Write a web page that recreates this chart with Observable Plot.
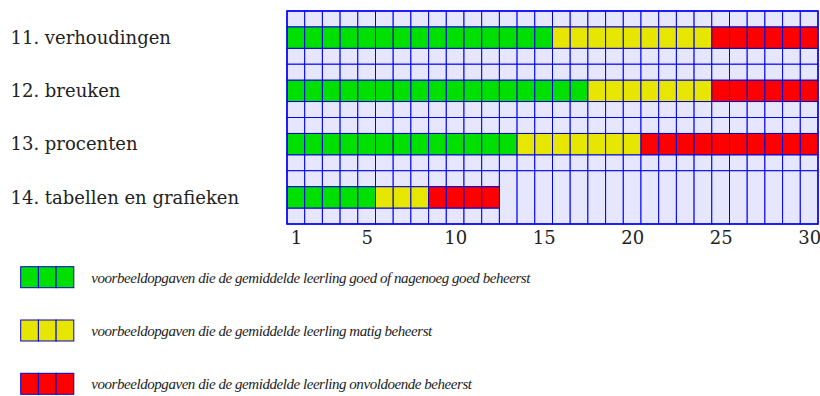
<!DOCTYPE html>
<html>
<head>
<meta charset="utf-8">
<script src="https://cdn.jsdelivr.net/npm/d3@7"></script>
<script src="https://cdn.jsdelivr.net/npm/@observablehq/plot@0.6"></script>
<style>
  html, body { margin: 0; padding: 0; background: #ffffff; }
  #chart svg, #legend svg { display: block; }
  #legend text { letter-spacing: -0.45px; }
</style>
</head>
<body>
<div id="chart"></div>
<div id="legend"></div>
<script>
// ---- data ----
const categories = ["11. verhoudingen", "12. breuken", "13. procenten", "14. tabellen en grafieken"];
const goed = [15, 17, 13, 5];
const matig = [9, 7, 7, 3];
const onvoldoende = [6, 6, 10, 4];
const columnCount = 30;
const tickValues = [1, 5, 10, 15, 20, 25, 30];
const levels = ["goed", "matig", "onvoldoende"];
const legendLabels = [
  "voorbeeldopgaven die de gemiddelde leerling goed of nagenoeg goed beheerst",
  "voorbeeldopgaven die de gemiddelde leerling matig beheerst",
  "voorbeeldopgaven die de gemiddelde leerling onvoldoende beheerst"
];

// ---- styles ----
const levelColors = ["#00e000", "#e6e600", "#ff0000"];
const cellBg = "#e6e6ff";
const gridBlue = "#0000ff";
const cellBlue = "#0000d0";
const labelFont = "'DejaVu Serif', 'Liberation Serif', serif";
const legendFont = "'Liberation Serif', serif";
const topFrac = 0.3, botFrac = 0.7;

// ---- build cell tables ----
const bgCells = [];
const colorCells = [];
categories.forEach((cat, i) => {
  const counts = [goed[i], matig[i], onvoldoende[i]];
  const n = counts.reduce((a, b) => a + b, 0);
  let c = 1;
  counts.forEach((k, li) => {
    for (let j = 0; j < k; j++, c++) {
      colorCells.push({col: c, y1: i + topFrac, y2: i + botFrac, level: levels[li]});
    }
  });
  for (let col = 1; col <= columnCount; col++) {
    if (col <= n) {
      bgCells.push({col, y1: i, y2: i + topFrac});
      bgCells.push({col, y1: i + botFrac, y2: i + 1});
    } else {
      bgCells.push({col, y1: i, y2: i + 1});
    }
  }
});

const chart = Plot.plot({
  width: 820,
  height: 250,
  marginLeft: 287,
  marginRight: 2,
  marginTop: 11,
  marginBottom: 26,
  x: {domain: [0.5, columnCount + 0.5]},
  y: {domain: [0, categories.length], range: [11, 224]},
  color: {domain: levels, range: levelColors},
  style: {fontFamily: labelFont, background: "#ffffff"},
  marks: [
    Plot.rect(bgCells, {x1: d => d.col - 0.5, x2: d => d.col + 0.5, y1: "y1", y2: "y2",
      fill: cellBg, stroke: gridBlue, strokeWidth: 1}),
    Plot.rect(colorCells, {x1: d => d.col - 0.5, x2: d => d.col + 0.5, y1: "y1", y2: "y2",
      fill: "level", stroke: cellBlue, strokeWidth: 1}),
    Plot.rect([0], {x1: 0.5, x2: columnCount + 0.5, y1: 0, y2: categories.length,
      fill: "none", stroke: gridBlue, strokeWidth: 1.5}),
    Plot.axisX({ticks: tickValues, tickSize: 0, tickPadding: 7, fontSize: 18,
      tickFormat: d => String(d), fill: "#222", label: null, fontFamily: labelFont}),
    Plot.axisY({ticks: []}),
    Plot.text(categories, {frameAnchor: "left", y: (d, i) => i + 0.5, dx: -277,
      text: d => d, textAnchor: "start", fontSize: 18, fill: "#222", fontFamily: labelFont})
  ]
});
document.getElementById("chart").appendChild(chart);

// ---- legend ----
const swatches = [];
levels.forEach((lv, i) => {
  for (let j = 0; j < 3; j++) swatches.push({i, j, level: lv});
});
const legendPlot = Plot.plot({
  width: 820,
  height: 146,
  margin: 0,
  x: {domain: [0, 30], range: [20.7, 551.7]},
  y: {domain: [0, 3], range: [16.7, 176.6]},
  color: {domain: levels, range: levelColors},
  style: {fontFamily: legendFont, background: "#ffffff"},
  axis: null,
  marks: [
    Plot.rect(swatches, {x1: "j", x2: d => d.j + 1, y1: "i", y2: d => d.i + 0.394,
      fill: "level", stroke: cellBlue, strokeWidth: 1}),
    Plot.text(legendLabels, {x: 3, y: (d, i) => i + 0.197, dx: 17, text: d => d,
      textAnchor: "start", fontSize: 15, fontStyle: "italic", fill: "#222", fontFamily: legendFont})
  ]
});
document.getElementById("legend").appendChild(legendPlot);
</script>
</body>
</html>
